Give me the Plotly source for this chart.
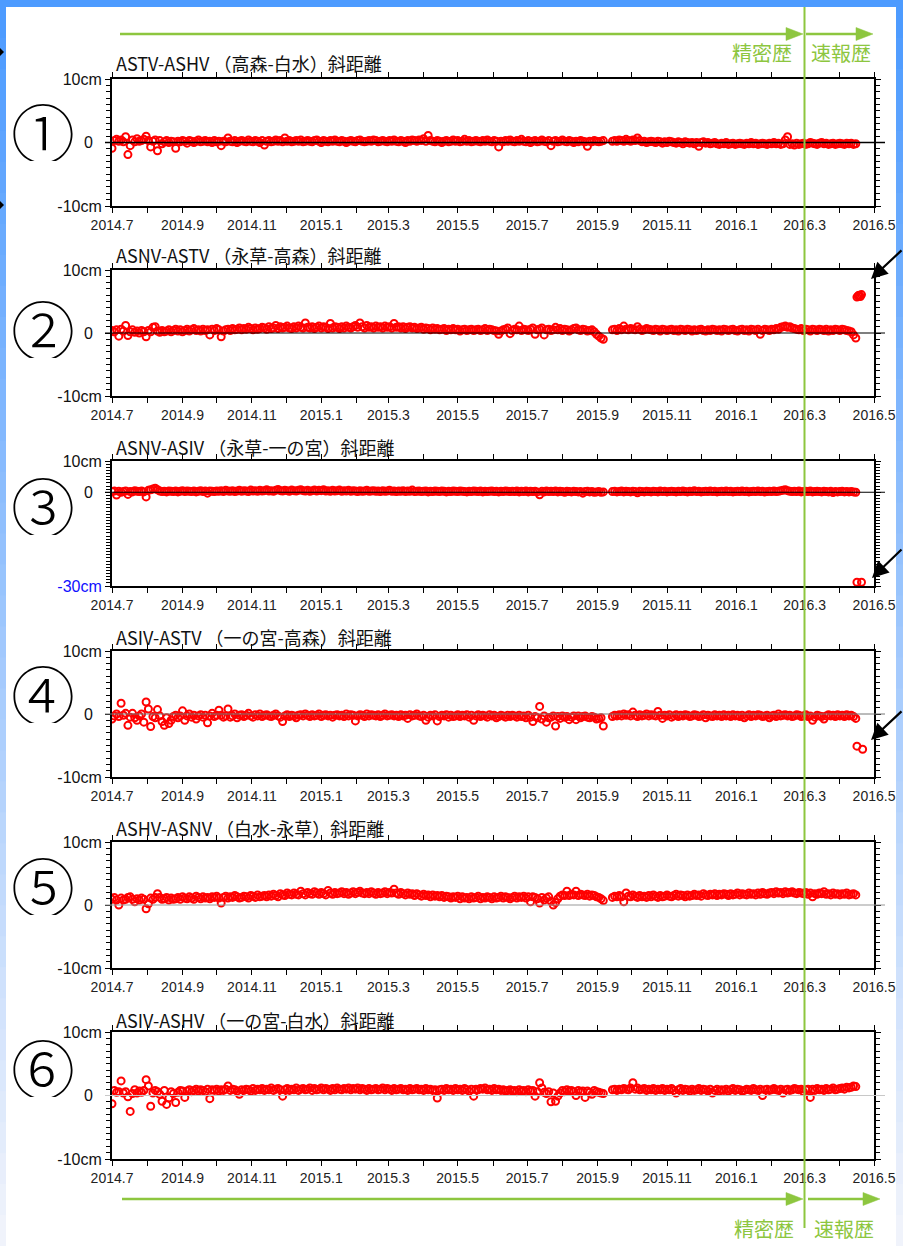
import pandas as pd
import plotly.graph_objects as go

W, H = 903, 1246

# Baseline observations every second day from 2014-07-01 (precise ephemeris up to 2016-04-15)
START = "2014-07-01"
STEP = "2D"

titles = [
    "ASTV-ASHV （高森-白水）斜距離",
    "ASNV-ASTV （永草-高森）斜距離",
    "ASNV-ASIV （永草-一の宮）斜距離",
    "ASIV-ASTV （一の宮-高森）斜距離",
    "ASHV-ASNV （白水-永草）斜距離",
    "ASIV-ASHV （一の宮-白水）斜距離",
]
labels = ["①", "②", "③", "④", "⑤", "⑥"]

# Slope distance change (cm); None marks missing days
astv_ashv = [
    -0.9, 0.3, 0.5, 0.2, 0.4, 0.1, 0.9, -1.9, -0.5, 0.4, 0.1, 0.6, 0.2, 0.3, 0.5, 1.0,
    0.3, -0.7, 0.2, 0.4, -1.3, 0.3, -0.2, 0.1, 0.3, 0.0, 0.2, 0.1, -0.9, 0.2, 0.1, 0.3,
    0.2, -0.1, 0.3, 0.2, 0.0, 0.2, 0.4, 0.1, 0.2, 0.3, 0.1, 0.2, 0.0, 0.3, 0.1, 0.2,
    -0.5, 0.2, 0.1, 0.7, 0.2, 0.1, 0.3, 0.0, 0.2, 0.3, 0.2, 0.1, 0.4, 0.2, 0.1, 0.3,
    0.2, 0.0, 0.3, -0.4, 0.2, 0.3, 0.1, 0.2, 0.4, 0.2, 0.3, 0.1, 0.7, 0.2, 0.3, 0.1,
    0.2, 0.3, 0.2, 0.4, 0.1, 0.2, 0.3, 0.2, 0.1, 0.3, 0.4, 0.2, 0.0, 0.3, 0.2, 0.1,
    0.3, 0.2, 0.4, 0.2, 0.1, 0.3, 0.2, 0.0, 0.2, 0.3, 0.2, 0.1, 0.3, 0.4, 0.2, 0.1,
    0.2, 0.3, 0.2, 0.4, 0.3, 0.1, 0.2, 0.3, 0.2, 0.1, 0.3, 0.2, 0.4, 0.2, 0.1, 0.3,
    0.2, 0.0, 0.3, 0.2, 0.4, 0.3, 0.2, 0.4, 0.3, 0.6, 0.2, 1.1, 0.3, 0.2, 0.1, 0.3,
    0.2, 0.0, 0.2, 0.3, 0.1, 0.2, 0.4, 0.2, 0.3, 0.1, 0.2, 0.5, 0.2, 0.3, 0.1, 0.2,
    0.3, 0.2, 0.1, 0.3, 0.2, 0.4, 0.2, 0.1, 0.3, 0.2, -0.7, 0.2, 0.1, 0.3, 0.2, 0.4,
    0.2, 0.1, 0.3, 0.2, 0.5, 0.2, 0.1, 0.3, 0.0, 0.2, 0.3, 0.1, 0.2, 0.4, 0.2, 0.1,
    0.3, -0.5, 0.2, 0.3, 0.1, 0.2, 0.4, 0.2, 0.1, 0.3, 0.2, 0.0, 0.2, 0.1, 0.3, 0.2,
    0.1, -0.6, 0.2, 0.1, 0.3, 0.2, 0.1, 0.2, 0.3, None, None, None, 0.2, 0.3, 0.2, 0.4,
    0.3, 0.2, 0.5, 0.3, 0.2, 0.4, 0.3, 0.7, 0.3, 0.1, 0.2, 0.0, 0.1, 0.2, 0.1, 0.0,
    0.2, 0.1, -0.1, 0.1, 0.0, 0.2, 0.1, 0.0, -0.1, 0.1, 0.0, -0.2, 0.1, 0.0, -0.1, 0.0,
    -0.2, 0.0, -0.6, 0.0, 0.1, -0.1, 0.0, -0.2, -0.1, 0.0, -0.2, -0.3, -0.1, -0.2, 0.0, -0.3,
    -0.2, -0.1, -0.3, -0.2, -0.1, -0.2, -0.3, -0.1, -0.2, 0.0, -0.2, -0.1, -0.3, -0.2, -0.1, -0.2,
    -0.3, -0.1, -0.2, 0.0, -0.2, -0.1, -0.3, -0.2, 0.4, 0.9, -0.3, -0.2, -0.4, -0.1, -0.3, -0.2,
    -0.1, -0.3, -0.2, 0.0, -0.1, -0.2, -0.3, -0.1, 0.0, -0.2, -0.1, -0.3, -0.2, -0.1, -0.3, -0.2,
    -0.1, -0.2, -0.3, -0.1, -0.2, -0.1, -0.3, -0.2,
]
asnv_astv = [
    0.4, 0.2, 0.5, -0.5, 0.6, 0.3, 1.2, -0.4, 0.2, 0.5, 0.1, 0.3, 0.0, 0.4, 0.2, -0.6,
    0.4, 0.2, 0.9, 1.0, 0.3, 0.1, 0.4, 0.2, 0.3, 0.5, 0.2, 0.4, 0.6, 0.3, 0.5, 0.2,
    0.4, 0.6, 0.3, 0.5, 0.7, 0.4, 0.5, 0.3, 0.6, 0.4, 0.5, -0.3, 0.6, 0.4, 0.7, 0.5,
    -0.6, 0.3, 0.5, 0.6, 0.4, 0.7, 0.5, 0.6, 0.8, 0.5, 0.7, 0.6, 0.9, 0.7, 0.5, 0.8,
    0.6, 0.7, 0.9, 0.8, 0.6, 1.0, 0.7, 0.8, 1.2, 0.7, 1.0, 0.8, 0.9, 1.1, 0.8, 0.7,
    1.0, 0.8, 1.1, 0.9, 0.8, 1.6, 0.9, 0.8, 1.0, 0.7, 0.9, 1.1, 0.8, 1.0, 0.9, 0.7,
    1.5, 0.8, 1.0, 0.9, 0.7, 1.0, 0.8, 1.1, 0.9, 0.8, 1.0, 1.2, 0.9, 1.6, 1.0, 0.8,
    1.2, 0.9, 1.0, 0.8, 1.1, 0.9, 1.0, 0.8, 1.1, 0.9, 1.0, 0.8, 1.5, 0.9, 1.0, 0.8,
    1.0, 0.7, 0.9, 1.0, 0.8, 0.9, 0.7, 0.8, 0.9, 0.6, 0.8, 0.7, 0.5, 0.8, 0.6, 0.7,
    0.5, 0.6, 0.7, 0.4, 0.6, 0.5, 0.7, 0.5, 0.6, 0.3, 0.5, 0.6, 0.4, 0.5, 0.6, 0.4,
    0.5, 0.6, 0.4, 0.5, 0.7, 0.4, 0.6, 0.5, 0.4, 0.3, -0.2, 0.3, 0.5, 0.6, 0.8, -0.1,
    0.4, 0.6, 0.5, 1.1, 0.4, 0.6, 0.5, 0.4, 0.6, 0.8, -0.2, 0.5, 0.6, 0.8, -0.3, 0.5,
    0.6, 0.4, 0.5, 0.9, 0.5, 0.7, 0.4, 0.6, 0.5, 0.3, 0.5, 0.7, 0.8, 0.5, 0.4, 0.6,
    0.5, 0.3, 0.4, 0.5, 0.2, -0.2, -0.5, -0.8, -1.0, None, None, None, 0.5, 0.6, 0.4, 0.7,
    0.5, 1.1, 0.6, 0.5, 0.7, 0.6, 0.5, 1.0, 0.6, 0.4, 0.5, 0.7, 0.6, 0.5, 0.4, 0.6,
    0.5, 0.3, 0.6, 0.5, 0.4, 0.5, 0.6, 0.4, 0.5, 0.3, 0.6, 0.5, 0.4, 0.6, 0.5, 0.3,
    0.5, 0.4, 0.5, 0.6, 0.4, 0.3, 0.5, 0.4, 0.6, 0.5, 0.4, 0.5, 0.3, 0.6, 0.5, 0.4,
    0.5, 0.6, 0.4, 0.3, 0.5, 0.6, 0.4, 0.5, 0.3, 0.6, 0.5, 0.4, 0.6, -0.2, 0.4, 0.6,
    0.5, 0.4, 0.6, 0.5, 0.7, 0.6, 0.9, 1.0, 1.1, 0.9, 1.0, 0.8, 0.7, 0.6, 0.5, 0.7,
    0.4, 0.6, 0.5, 0.3, 0.6, 0.5, 0.4, 0.6, 0.5, 0.4, 0.6, 0.3, 0.5, 0.4, 0.6, 0.5,
    0.4, 0.6, 0.5, 0.4, 0.3, 0.2, -0.3, -0.8,
]
asnv_asiv = [
    0.2, 0.4, -0.9, 0.3, 0.0, 0.2, 0.4, -0.7, 0.2, 0.1, 0.5, 0.3, 0.2, 0.4, 0.1, -1.5,
    0.6, 0.8, 1.0, 1.3, 0.8, 0.4, 0.2, 0.3, 0.1, 0.4, 0.3, 0.2, 0.4, 0.1, 0.3, 0.5,
    0.2, 0.4, 0.3, 0.2, 0.4, 0.1, 0.3, 0.5, 0.2, 0.4, -0.3, 0.4, 0.3, 0.2, 0.4, 0.3,
    0.5, 0.2, 0.6, 0.4, 0.3, 0.5, 0.2, 0.4, 0.6, 0.3, 0.5, 0.4, 0.2, 0.7, 0.4, 0.5,
    0.3, 0.6, 0.4, 0.5, 0.8, 0.4, 0.5, 0.3, 0.6, 0.9, 0.5, 0.4, 0.6, 0.5, 0.3, 0.7,
    0.5, 0.4, 0.6, 0.8, 0.5, 0.4, 0.6, 0.3, 0.5, 0.7, 0.4, 0.6, 0.5, 0.8, 0.4, 0.5,
    0.3, 0.6, 0.4, 0.5, 0.7, 0.3, 0.5, 0.4, 0.6, 0.3, 0.5, 0.4, 0.2, 0.5, 0.3, 0.4,
    0.6, 0.3, 0.4, 0.5, 0.3, 0.4, 0.2, 0.5, 0.3, 0.4, 0.6, 0.3, 0.4, 0.2, 0.4, 0.3,
    0.5, 0.2, 0.4, 0.3, 0.7, 0.2, 0.3, 0.4, 0.2, 0.3, 0.4, 0.1, 0.3, 0.2, 0.4, 0.3,
    0.2, 0.4, 0.3, 0.1, 0.3, 0.2, 0.4, 0.3, 0.2, 0.4, 0.3, 0.2, 0.1, 0.3, 0.2, 0.4,
    0.3, 0.2, 0.4, 0.1, 0.3, 0.2, 0.3, 0.4, 0.2, 0.3, 0.1, 0.3, 0.2, 0.4, 0.3, 0.2,
    0.3, 0.2, 0.4, 0.1, 0.3, 0.2, 0.4, 0.1, 0.3, 0.2, 0.3, 0.1, -0.8, 0.3, 0.1, 0.4,
    0.2, 0.3, 0.2, 0.4, 0.1, 0.3, 0.2, 0.0, 0.3, 0.2, 0.1, 0.3, 0.2, 0.1, 0.2, -0.3,
    0.2, 0.3, 0.1, 0.2, 0.0, 0.1, 0.2, 0.0, 0.1, None, None, None, 0.2, 0.3, 0.1, 0.2,
    0.4, 0.1, 0.3, 0.2, 0.1, 0.3, 0.2, -0.2, 0.3, 0.2, 0.1, 0.3, 0.2, 0.1, 0.3, 0.2,
    0.1, 0.4, 0.2, 0.3, 0.1, 0.2, 0.3, 0.2, 0.1, 0.3, 0.2, 0.4, 0.2, 0.1, 0.3, 0.2,
    0.5, 0.2, 0.3, 0.1, 0.2, 0.3, 0.2, 0.4, 0.2, 0.3, 0.1, 0.2, 0.3, 0.2, 0.4, 0.2,
    0.3, 0.1, 0.2, 0.3, 0.2, 0.4, 0.2, 0.3, 0.1, 0.2, 0.3, 0.2, 0.4, 0.2, 0.3, 0.1,
    0.2, 0.3, 0.2, 0.4, 0.2, 0.3, 0.5, 0.6, 0.8, 0.5, 0.3, 0.2, 0.3, 0.2, 0.4, 0.1,
    0.2, 0.3, 0.2, 0.4, 0.1, 0.2, 0.3, 0.2, 0.1, 0.3, 0.2, 0.1, 0.3, -0.1, 0.2, 0.1,
    0.2, 0.3, 0.1, 0.2, 0.1, 0.2, 0.1, 0.0,
]
asiv_astv = [
    -0.8, -0.3, 0.0, -0.4, 1.7, -0.2, 0.1, -1.8, -0.5, 0.1, -0.6, -1.0, -0.3, 0.0, -1.3, 1.9,
    0.8, -2.0, -0.4, -0.6, 0.7, -0.3, -1.2, -1.8, -0.6, -1.5, -1.0, -0.4, -0.2, -0.6, -0.3, 0.5,
    -1.0, -0.3, 0.0, -0.5, -0.2, -0.8, -0.3, -0.1, -0.5, -0.2, -1.4, -0.3, 0.1, -0.4, -0.2, 0.6,
    -0.2, -0.5, -0.3, 0.8, -0.5, -0.3, 0.0, -0.6, -0.2, -0.1, -0.4, -0.2, 0.1, -0.3, -0.5, -0.1,
    -0.3, 0.0, -0.4, -0.2, -0.1, -0.3, -0.4, -0.2, 0.0, -0.3, -0.5, -1.2, -0.3, -0.1, -0.4, -0.2,
    -0.3, -0.6, -0.2, -0.1, -0.3, 0.0, -0.2, -0.4, -0.1, -0.3, -0.2, 0.0, -0.4, -0.2, -0.1, -0.3,
    -0.2, -0.5, -0.2, -0.1, -0.3, -0.2, -0.4, 0.0, -0.3, -0.1, -0.2, -1.1, -0.3, -0.1, -0.2, -0.4,
    0.0, -0.3, -0.1, -0.2, -0.3, -0.1, -0.4, -0.2, 0.0, -0.3, -0.2, -0.1, -0.3, -0.2, -0.4, -0.1,
    -0.3, -0.2, -0.7, -0.1, -0.3, -0.2, 0.0, -0.3, -0.4, -0.2, -1.0, -0.5, -0.2, -0.3, -0.1, -1.1,
    -0.4, -0.2, -0.3, -0.1, -0.5, -0.2, -0.4, -0.3, -0.1, -0.4, -0.2, -0.3, -0.1, -0.5, -0.2, -1.0,
    -0.3, -0.1, -0.4, -0.2, -0.3, -0.5, -0.1, -0.3, -0.2, -0.6, -0.4, -0.2, -0.3, -0.5, -0.2, -0.4,
    -0.2, -0.3, -0.5, -0.2, -0.4, -0.3, -0.6, -0.2, -0.5, -1.2, -0.4, -0.6, 1.2, -0.8, -0.3, -1.3,
    -0.6, -0.5, -0.3, -1.9, -0.4, -0.7, -0.3, -0.5, -0.4, -0.9, -0.5, -0.3, -0.9, -0.3, -0.6, -0.4,
    -0.3, -0.5, -0.6, -0.4, -0.5, -0.8, -0.7, -0.6, -1.9, None, None, None, -0.4, -0.2, -0.3, -0.1,
    -0.3, 0.0, -0.2, -0.1, -0.3, 0.3, -0.2, -0.4, -0.1, -0.3, -0.2, 0.0, -0.3, -0.1, -0.2, -0.3,
    0.4, -0.2, -0.7, -0.2, -0.3, -0.1, -0.5, -0.3, -0.1, -0.4, -0.2, -0.3, -0.1, -0.2, -0.4, -0.3,
    -0.1, -0.2, -0.4, -0.3, -0.1, -0.6, -0.2, -0.3, -0.4, -0.1, -0.3, -0.2, -0.4, -0.1, -0.3, -0.2,
    -0.4, -0.1, -0.3, -0.2, -0.4, -0.2, -0.6, -0.3, -0.1, -0.4, -0.2, -0.3, -0.1, -0.2, -0.4, -0.3,
    -0.2, -0.6, -0.3, -0.2, -0.4, 0.0, -0.3, -0.2, -0.1, -0.3, -0.2, -0.4, -0.3, -0.1, -0.2, -0.4,
    -0.3, -0.1, -0.4, -0.3, -1.0, -0.5, -0.2, -0.3, -0.4, -0.8, -0.3, -0.1, -0.3, -0.2, -0.4, -0.1,
    -0.3, -0.2, -0.4, -0.1, -0.3, -0.2, -0.4, -0.7,
]
ashv_asnv = [
    0.9, 1.2, 0.8, 0.0, 1.1, 0.8, 0.9, 1.2, 1.3, 0.9, 0.5, 1.0, 0.8, 1.1, 0.9, -0.6,
    0.2, 1.1, 0.9, 1.2, 1.8, 1.2, 0.9, 1.0, 1.2, 0.8, 1.1, 0.9, 1.0, 1.2, 0.9, 1.3,
    1.1, 1.0, 1.3, 1.1, 0.9, 1.4, 1.2, 1.0, 1.3, 1.1, 1.2, 1.0, 1.3, 1.2, 1.4, 1.1,
    0.3, 1.2, 1.4, 1.1, 1.3, 1.2, 1.5, 1.3, 1.1, 1.2, 1.4, 1.3, 1.1, 1.5, 1.4, 1.2,
    1.6, 1.3, 1.4, 1.5, 1.3, 1.6, 1.4, 1.7, 1.5, 1.3, 1.8, 1.6, 1.5, 1.9, 1.7, 1.6,
    1.9, 1.7, 1.6, 2.2, 1.8, 1.6, 2.0, 1.8, 1.7, 2.1, 1.9, 1.7, 2.0, 1.8, 1.6, 2.3,
    1.9, 1.7, 2.0, 1.8, 1.9, 2.1, 1.8, 2.0, 1.7, 1.9, 2.1, 1.8, 2.0, 2.2, 1.9, 1.8,
    2.0, 1.8, 2.1, 1.9, 1.7, 2.0, 1.8, 1.9, 2.1, 1.8, 2.0, 1.9, 2.5, 1.9, 1.7, 2.0,
    1.8, 1.6, 1.9, 1.7, 1.8, 1.5, 1.8, 1.6, 1.4, 1.7, 1.5, 1.6, 1.3, 1.6, 1.4, 1.5,
    1.3, 1.5, 1.2, 1.4, 1.3, 1.1, 1.3, 1.2, 1.4, 1.0, 1.3, 1.1, 1.2, 1.0, 1.3, 1.1,
    1.2, 1.4, 1.0, 1.2, 1.1, 1.3, 1.2, 1.0, 1.3, 1.1, 1.2, 1.4, 1.1, 1.3, 1.2, 1.0,
    1.2, 1.4, 1.1, 1.3, 1.2, 1.4, 1.1, 1.3, 0.5, 1.3, 1.2, 1.0, 0.3, 1.2, 0.8, 1.1,
    1.3, 0.6, 0.0, 0.4, 1.0, 1.4, 1.6, 1.5, 2.2, 1.5, 1.7, 1.6, 2.2, 1.5, 1.7, 1.6,
    1.5, 1.7, 1.4, 1.6, 1.5, 1.3, 1.2, 1.0, 0.7, None, None, None, 1.2, 1.4, 1.3, 1.5,
    1.3, 0.5, 1.9, 1.4, 1.3, 1.6, 1.4, 1.2, 1.5, 1.3, 1.4, 1.2, 1.5, 1.3, 1.6, 1.4,
    1.2, 1.5, 1.3, 1.4, 1.6, 1.4, 1.3, 1.5, 1.7, 1.4, 1.6, 1.5, 1.3, 1.6, 1.4, 1.5,
    1.7, 1.5, 1.6, 1.4, 1.8, 1.6, 1.5, 1.7, 1.6, 1.8, 1.5, 1.7, 1.6, 1.8, 1.7, 1.5,
    1.8, 1.6, 1.7, 1.9, 1.6, 1.8, 1.7, 1.6, 1.9, 1.7, 1.8, 1.6, 1.9, 1.7, 2.0, 1.8,
    1.7, 1.9, 2.0, 1.8, 2.1, 1.9, 2.0, 1.8, 2.1, 1.9, 2.0, 2.1, 1.9, 1.8, 2.0, 1.9,
    1.8, 2.0, 1.7, 1.9, 1.3, 1.8, 1.7, 1.9, 1.8, 2.1, 1.7, 1.8, 1.6, 1.9, 1.7, 1.8,
    1.6, 1.8, 1.7, 1.9, 1.6, 1.7, 1.8, 1.6,
]
asiv_ashv = [
    -1.3, 0.8, 0.5, 0.6, 2.3, 0.4, 0.6, -0.2, -2.5, 0.3, 0.9, 0.4, 0.7, 0.5, 0.8, 2.5,
    1.5, -1.7, 0.4, 0.8, 0.6, 0.2, -0.9, 0.8, -1.4, -0.4, 0.6, 0.3, -1.1, 0.5, 0.8, 0.7,
    -0.3, 0.7, 0.9, 0.6, 0.8, 1.0, 0.7, 0.9, 0.8, 0.6, 1.0, -0.5, 0.9, 0.8, 1.0, 0.7,
    0.9, 0.8, 1.0, 1.5, 0.8, 1.0, 0.9, 0.7, 0.2, 0.9, 0.8, 1.0, 0.9, 0.7, 1.1, 0.8,
    1.0, 0.9, 1.1, 0.8, 1.0, 0.9, 1.2, 0.8, 1.0, 1.1, 0.9, -0.1, 0.9, 1.1, 0.8, 1.0,
    0.9, 1.2, 0.8, 1.0, 1.1, 0.9, 1.0, 1.2, 0.8, 1.1, 0.9, 1.0, 1.2, 0.9, 1.1, 1.0,
    0.8, 1.1, 0.9, 1.2, 1.0, 0.9, 1.1, 1.0, 1.2, 0.9, 1.1, 1.0, 1.2, 0.9, 1.1, 1.0,
    0.8, 1.1, 0.9, 1.0, 1.1, 0.9, 1.0, 1.2, 0.9, 1.1, 1.0, 0.8, 1.1, 0.9, 1.0, 1.1,
    0.9, 1.0, 0.8, 1.1, 0.9, 1.0, 1.1, 0.9, 1.0, 0.8, 1.1, 0.9, 1.0, 0.8, 0.9, -0.4,
    0.9, 1.0, 0.8, 1.1, 0.9, 1.0, 0.8, 1.1, 0.9, 1.0, 0.8, 1.1, 0.9, 0.7, 1.0, -0.1,
    1.0, 0.9, 1.1, 1.0, 1.2, 0.9, 1.0, 0.8, 1.1, 0.9, 1.0, 0.8, 0.9, 0.7, 0.8, 0.9,
    0.7, 0.8, 0.6, 0.9, 0.7, 0.8, 0.6, 0.9, 0.7, 0.8, -0.1, 0.6, 2.0, 1.2, 0.5, 0.3,
    0.6, -1.0, 0.4, -0.9, -0.1, 0.4, 0.8, 0.6, 0.9, 0.7, 0.8, 0.6, 0.0, 0.8, 0.6, 0.7,
    -0.3, 0.7, 0.5, 0.2, 0.8, 0.6, 0.5, 0.4, 0.3, None, None, None, 0.9, 1.0, 0.8, 1.0,
    0.9, 1.1, 1.0, 0.9, 1.2, 2.0, 1.0, 1.2, 0.9, 1.0, 1.1, 0.8, 1.0, 0.9, 1.1, 0.8,
    1.0, 0.9, 1.1, 0.8, 1.0, 0.9, 1.1, 0.8, 0.4, 0.9, 1.1, 0.8, 1.0, 0.9, 0.7, 1.0,
    0.8, 0.9, 1.1, 0.8, 1.0, 0.9, 0.7, 1.0, 0.4, 0.8, 1.0, 0.7, 0.9, 0.8, 1.0, 0.7,
    0.9, 1.1, 0.8, 1.0, 0.9, 0.7, 0.8, 1.0, 0.9, 0.8, 1.1, 0.9, 0.8, 1.0, 0.0, 0.9,
    1.0, 0.8, 0.9, 1.1, 0.9, 0.8, 1.0, 0.4, 0.9, 1.0, 0.8, 0.9, 1.1, 1.0, 0.9, 1.0,
    0.6, 0.9, 1.0, -0.3, 1.0, 0.8, 1.1, 0.9, 1.0, 0.8, 1.1, 0.9, 1.0, 1.2, 0.9, 1.0,
    1.1, 1.2, 1.0, 1.3, 1.2, 1.3, 1.5, 1.4,
]

# Observations after the April 2016 earthquakes (quick ephemeris)
quake_dates = [
    [],
    ["2016-04-16", "2016-04-17", "2016-04-18", "2016-04-19", "2016-04-20"],
    ["2016-04-16", "2016-04-20"],
    ["2016-04-16", "2016-04-21"],
    [],
    [],
]
quake_values = [
    [],
    [5.7, 5.9, 6.0, 5.8, 6.1],
    [-28.8, -28.8],
    [-5.1, -5.6],
    [],
    [],
]

series = [astv_ashv, asnv_astv, asnv_asiv, asiv_astv, ashv_asnv, asiv_ashv]
y_ranges = [[-10, 10]] * 2 + [[-30, 10]] + [[-10, 10]] * 3
y_ticks = [[-10, 0, 10]] * 2 + [[-30, 0, 10]] + [[-10, 0, 10]] * 3
ZERO = "0\u00a0\u00a0"
y_ticktext = [["-10cm", ZERO, "10cm"]] * 2 + [
    ["<span style='color:#1010ff'>-30cm</span>", ZERO, "10cm"]
] + [["-10cm", ZERO, "10cm"]] * 3

# Panel boxes in page pixels (top, bottom)
panel_px = [(79, 206), (270, 396), (461, 586), (651, 777), (842, 968), (1032, 1159)]
title_y = [63, 255, 447, 637, 828, 1020]
label_y = [130, 327, 504, 692, 884, 1066]
zero_colors = ["#000000", "#000000", "#000000", "#777777", "#999999", "#c8c8c8"]
zero_widths = [1.6, 1.2, 1.2, 1, 1, 1]

X0, X1 = 112, 874
GREEN = "#8dc63f"
LABEL_FONT = "Liberation Sans, Arial, sans-serif"
CJK_FONT = "Noto Sans CJK JP, sans-serif"


def px(x):
    return x / W


def py(y):
    return 1 - y / H


fig = go.Figure()
layout = dict(
    width=W, height=H, autosize=False,
    margin=dict(l=0, r=0, t=0, b=0, pad=0, autoexpand=False),
    paper_bgcolor="white", plot_bgcolor="white",
    showlegend=False,
)
annotations = []
shapes = []

for k in range(6):
    n = k + 1
    xa = "x" if n == 1 else f"x{n}"
    ya = "y" if n == 1 else f"y{n}"
    top, bot = panel_px[k]
    dates = pd.date_range(START, periods=len(series[k]), freq=STEP)
    xs = list(dates) + list(pd.to_datetime(quake_dates[k]))
    ys = list(series[k]) + list(quake_values[k])
    fig.add_trace(go.Scatter(
        x=xs, y=ys, mode="markers", xaxis=xa, yaxis=ya,
        marker=dict(symbol="circle-open", size=7, color="#ff0000",
                    line=dict(width=2, color="#ff0000")),
        hoverinfo="skip",
    ))
    layout[f"xaxis{n if n > 1 else ''}"] = dict(
        domain=[px(X0), px(X1)], anchor=ya, type="date",
        range=["2014-07-01", "2016-05-01"],
        tick0="2014-07-01", dtick="M2", tickformat="%Y.%-m",
        ticks="outside", ticklen=5, tickwidth=1, tickcolor="#000",
        minor=dict(dtick="M1", ticks="outside", ticklen=5, tickwidth=1, tickcolor="#000"),
        showline=True, linewidth=2, linecolor="#000", mirror="allticks",
        showgrid=False, zeroline=False, automargin=False,
        tickfont=dict(family=LABEL_FONT, size=14, color="#222"),
        fixedrange=True,
    )
    layout[f"yaxis{n if n > 1 else ''}"] = dict(
        domain=[py(bot), py(top)], anchor=xa,
        range=y_ranges[k], tickvals=y_ticks[k], ticktext=y_ticktext[k],
        ticks="outside", ticklen=5, tickwidth=1, tickcolor="#000",
        minor=dict(dtick=1, tick0=0, ticks="outside", ticklen=4, tickwidth=1, tickcolor="#000"),
        showline=True, linewidth=2, linecolor="#000", mirror="allticks",
        showgrid=False, zeroline=False, automargin=False,
        tickfont=dict(family=LABEL_FONT, size=16, color="#111"),
        fixedrange=True,
    )
    # zero reference line, running slightly past both frame edges
    shapes.append(dict(type="line", xref="paper", yref=ya, x0=px(105), x1=px(885),
                       y0=0, y1=0, line=dict(color=zero_colors[k], width=zero_widths[k]),
                       layer="above"))
    annotations.append(dict(text=titles[k], xref="paper", yref="paper",
                            x=px(114), y=py(title_y[k]), xanchor="left", yanchor="middle",
                            showarrow=False,
                            font=dict(family=CJK_FONT, size=18, color="#111")))
    annotations.append(dict(text=labels[k], xref="paper", yref="paper",
                            x=px(43), y=py(label_y[k]), xanchor="center", yanchor="middle",
                            showarrow=False, height=62, width=64,
                            font=dict(family=CJK_FONT, size=64, color="#000", weight=300)))

# Frame: blue bands along the top and the sides, fading toward the bottom
shapes.append(dict(type="rect", xref="paper", yref="paper", x0=0, x1=1,
                   y0=py(7), y1=1, fillcolor="rgb(77,155,255)", line=dict(width=0), layer="above"))
c_top, c_bot = (77, 155, 255), (240, 243, 251)
steps = 40
for s in range(steps):
    t = s / (steps - 1)
    col = "rgb(%d,%d,%d)" % tuple(round(a + (b - a) * t) for a, b in zip(c_top, c_bot))
    ya0 = 7 + (H - 7) * s / steps
    ya1 = 7 + (H - 7) * (s + 1) / steps + 1
    for xa0, xa1 in ((0, 6), (896, W)):
        shapes.append(dict(type="rect", xref="paper", yref="paper",
                           x0=px(xa0), x1=px(xa1), y0=py(ya1), y1=py(ya0),
                           fillcolor=col, line=dict(width=0), layer="above"))

# Small arrow tips at the left page edge
for ty in (52, 205):
    tip = "M %f %f L %f %f L %f %f Z" % (px(0), py(ty - 4), px(4), py(ty), px(0), py(ty + 4))
    shapes.append(dict(type="path", xref="paper", yref="paper", path=tip,
                       fillcolor="#000", line=dict(width=0), layer="above"))

# Precise / rapid ephemeris boundary (2016-03-01) and arrows
shapes.append(dict(type="line", xref="paper", yref="paper", x0=px(804.5), x1=px(804.5),
                   y0=py(1228), y1=py(7), line=dict(color=GREEN, width=2), layer="above"))


def green_arrow(xs, xe, y):
    shapes.append(dict(type="line", xref="paper", yref="paper", x0=px(xs), x1=px(xe - 14),
                       y0=py(y), y1=py(y), line=dict(color=GREEN, width=2.5), layer="above"))
    path = "M %f %f L %f %f L %f %f Z" % (px(xe - 17), py(y - 6.5), px(xe), py(y),
                                          px(xe - 17), py(y + 6.5))
    shapes.append(dict(type="path", xref="paper", yref="paper", path=path,
                       fillcolor=GREEN, line=dict(color=GREEN, width=0.5), layer="above"))


green_arrow(120, 803, 34)
green_arrow(806, 873, 34)
green_arrow(122, 803, 1199)
green_arrow(808, 880, 1199)

for txt, x, anchor, y in (("精密歴", 794, "right", 53), ("速報歴", 809, "left", 53),
                          ("精密歴", 796, "right", 1228), ("速報歴", 812, "left", 1228)):
    annotations.append(dict(text=txt, xref="paper", yref="paper", x=px(x), y=py(y),
                            xanchor=anchor, yanchor="middle", showarrow=False,
                            font=dict(family=CJK_FONT, size=20, color=GREEN)))

# Arrows pointing at the post-earthquake offsets
for hx, hy in ((871, 279), (872, 578), (871, 740)):
    annotations.append(dict(text="", xref="paper", yref="paper", x=px(hx), y=py(hy),
                            ax=40, ay=-30, showarrow=True, arrowhead=2, arrowsize=1.5,
                            arrowwidth=2.2, arrowcolor="#000"))

layout["annotations"] = annotations
layout["shapes"] = shapes
fig.update_layout(**layout)
fig.write_html("out.html")
